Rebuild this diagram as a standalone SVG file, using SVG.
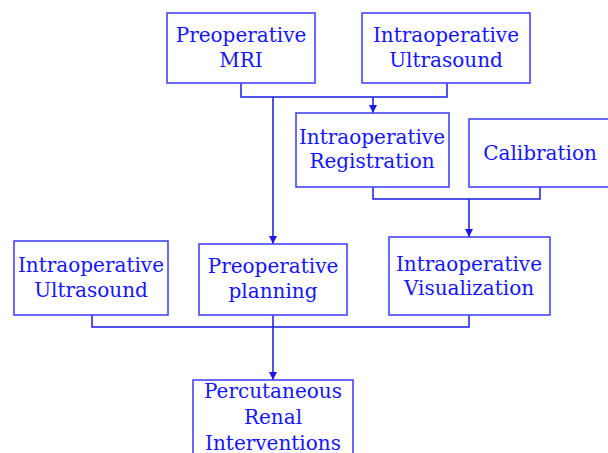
<svg xmlns="http://www.w3.org/2000/svg" width="608" height="453" viewBox="0 0 608 453">
<style>
.box{fill:#fff;stroke:#3a3aff;stroke-width:1.5}
.t{font-family:"DejaVu Serif","Liberation Serif",serif;font-size:20px;fill:#1414ff;text-anchor:middle}
.c{fill:none;stroke:#1a1ae6;stroke-width:1.5}
</style>
<defs>
<marker id="ah" viewBox="0 0 10 10" refX="10" refY="5" markerWidth="8" markerHeight="8" markerUnits="userSpaceOnUse" orient="auto">
<path d="M0,0 L10,5 L0,10 z" fill="#1a1ae6"/>
</marker>
</defs>
<rect width="608" height="453" fill="#fff"/>
<g id="connectors">
<path class="c" d="M241,83 V97 H447 V83"/>
<path class="c" d="M373,97 V113" marker-end="url(#ah)"/>
<path class="c" d="M273,97 V244" marker-end="url(#ah)"/>
<path class="c" d="M373,187 V199 H540 V187"/>
<path class="c" d="M469,199 V237" marker-end="url(#ah)"/>
<path class="c" d="M92,315 V327 H469 V315"/>
<path class="c" d="M273,315 V380" marker-end="url(#ah)"/>
</g>
<g id="preop-mri"><rect class="box" x="167" y="13" width="148" height="70"/><text class="t" x="241" y="42">Preoperative</text><text class="t" x="241" y="67">MRI</text></g>
<g id="intraop-us-top"><rect class="box" x="362" y="13" width="168" height="70"/><text class="t" x="446" y="42">Intraoperative</text><text class="t" x="446" y="67">Ultrasound</text></g>
<g id="intraop-registration"><rect class="box" x="296" y="113" width="153" height="74"/><text class="t" x="372" y="144">Intraoperative</text><text class="t" x="372" y="168">Registration</text></g>
<g id="calibration"><rect class="box" x="469" y="119" width="140" height="68"/><text class="t" x="540" y="160">Calibration</text></g>
<g id="intraop-visualization"><rect class="box" x="389" y="237" width="161" height="78"/><text class="t" x="469" y="271">Intraoperative</text><text class="t" x="469" y="295">Visualization</text></g>
<g id="intraop-us-left"><rect class="box" x="14" y="241" width="154" height="74"/><text class="t" x="91" y="272">Intraoperative</text><text class="t" x="91" y="297">Ultrasound</text></g>
<g id="preop-planning"><rect class="box" x="199" y="244" width="148" height="71"/><text class="t" x="273" y="273">Preoperative</text><text class="t" x="273" y="298">planning</text></g>
<g id="percutaneous"><rect class="box" x="193" y="380" width="160" height="80"/><text class="t" x="273" y="398">Percutaneous</text><text class="t" x="273" y="424">Renal</text><text class="t" x="273" y="450">Interventions</text></g>
</svg>
